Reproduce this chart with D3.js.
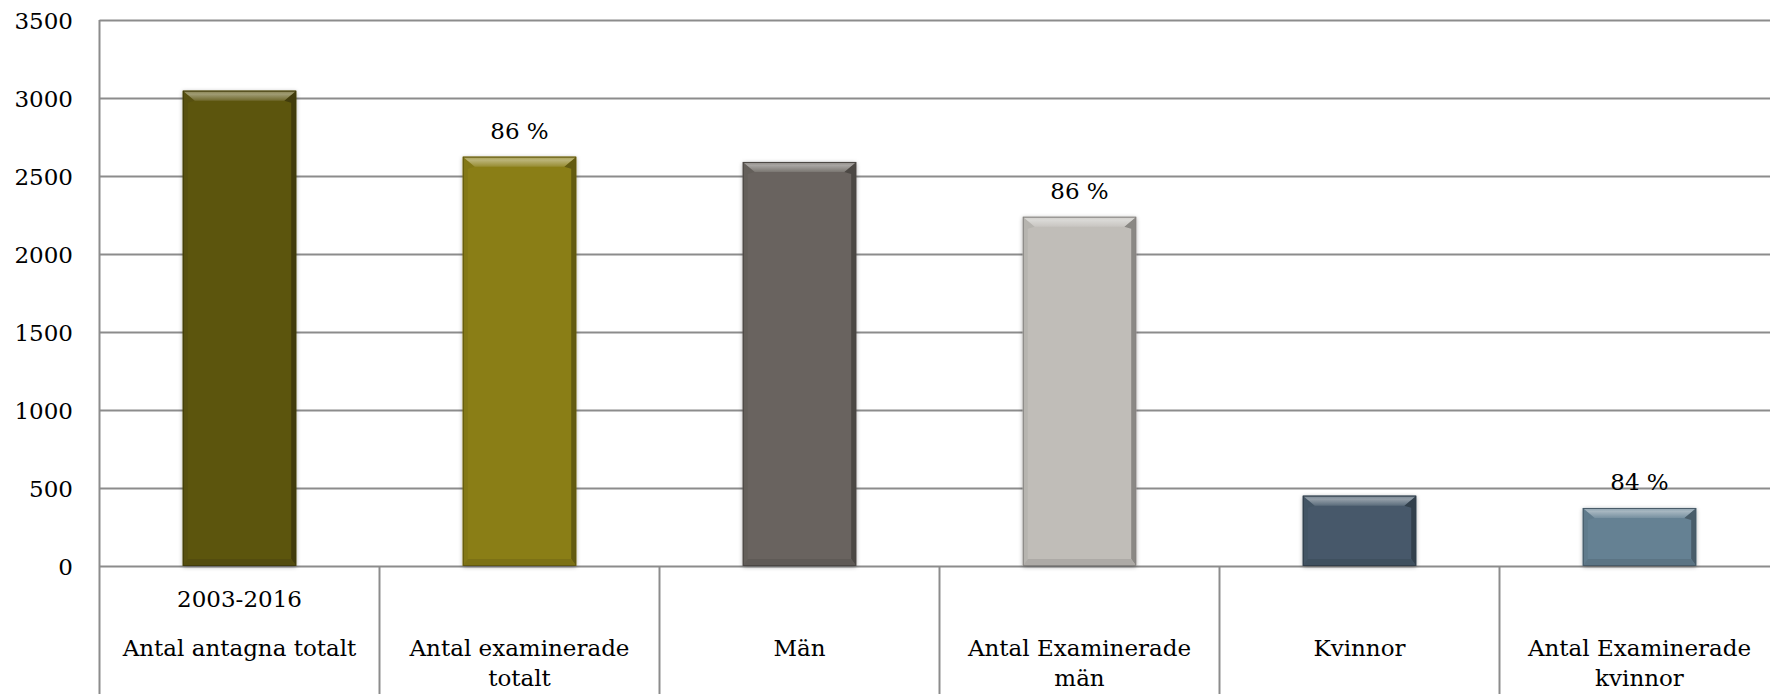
<!DOCTYPE html>
<html><head><meta charset="utf-8">
<script src="https://cdn.jsdelivr.net/npm/d3@7"></script>
<style>body{margin:0;background:#fff;overflow:hidden}svg{display:block}text{font-family:"DejaVu Serif",serif;fill:#000}</style>
</head><body>
<svg id="c" width="1770" height="694"></svg>
<script>
const categories = [
  ["2003-2016", "Antal antagna totalt"],
  ["Antal examinerade", "totalt"],
  ["Män"],
  ["Antal Examinerade", "män"],
  ["Kvinnor"],
  ["Antal Examinerade", "kvinnor"]
];
const values = [3047, 2624, 2590, 2239, 451, 372];
const percentLabels = ["", "86 %", "", "86 %", "", "84 %"];
const colors = ["#5c5410", "#8a7e17", "#69645f", "#c0bdb8", "#46596a", "#658193"];
const yTicks = [0, 500, 1000, 1500, 2000, 2500, 3000, 3500];

(function(){
const svg = d3.select("#c");
const left = 99.5, plotTop = 20, zeroY = 566, step = 280;
const fs = 23;
const x = d3.scaleBand().domain(d3.range(categories.length)).range([left, left + step * categories.length]).paddingInner(0).paddingOuter(0);
const y = d3.scaleLinear().domain([0, 3500]).range([zeroY, plotTop]);
const grid = "#8c8c8c";

svg.append("g").selectAll("line").data(yTicks).join("line")
  .attr("x1", left).attr("x2", 1770).attr("y1", d => Math.round(y(d)) + 0.5).attr("y2", d => Math.round(y(d)) + 0.5)
  .attr("stroke", grid).attr("stroke-width", 2);
svg.append("line").attr("x1", left).attr("x2", left).attr("y1", plotTop).attr("y2", 694).attr("stroke", grid).attr("stroke-width", 2);
svg.append("g").selectAll("line").data(d3.range(1, categories.length)).join("line")
  .attr("x1", d => x(d)).attr("x2", d => x(d)).attr("y1", zeroY).attr("y2", 694)
  .attr("stroke", grid).attr("stroke-width", 2);

const yAxis = d3.axisLeft(y).tickValues(yTicks).tickFormat(d3.format("d")).tickSize(0).tickPadding(0);
const ga = svg.append("g").attr("transform", `translate(73,0)`).call(yAxis);
ga.attr("font-size", null).attr("font-family", null);
ga.select(".domain").remove();
ga.selectAll("text").style("font-size", fs + "px").style("font-family", "DejaVu Serif").attr("fill", "#000").attr("dy", "0.36em");

const defs = svg.append("defs");
const f = defs.append("filter").attr("id", "sh").attr("x", "-10%").attr("y", "-10%").attr("width", "120%").attr("height", "120%");
f.append("feDropShadow").attr("dx", 0).attr("dy", 1).attr("stdDeviation", 2).attr("flood-color", "#000").attr("flood-opacity", 0.35);

const bw = step * 0.405;
const bars = svg.append("g").selectAll("g").data(values).join("g");
bars.each(function(v, i) {
  const g = d3.select(this);
  const x0 = x(i) + (step - bw) / 2, x1 = x0 + bw;
  const y0 = y(v), y1 = zeroY;
  const c = d3.color(colors[i]);
  const bt = 10, bb = 7, sl = 5, sr = 5, cx = 12;
  const ix0 = x0 + sl, ix1 = x1 - sr, iy0 = y0 + bt, iy1 = y1 - bb;
  const gid = "tg" + i;
  const lg = defs.append("linearGradient").attr("id", gid).attr("x1", 0).attr("y1", 0).attr("x2", 0).attr("y2", 1);
  lg.append("stop").attr("offset", 0).attr("stop-color", d3.interpolateRgb(c, "#fff")(0.25));
  lg.append("stop").attr("offset", 0.35).attr("stop-color", d3.interpolateRgb(c, "#fff")(0.42));
  lg.append("stop").attr("offset", 1).attr("stop-color", d3.interpolateRgb(c, "#fff")(0.12));
  g.append("rect").attr("x", x0).attr("y", y0).attr("width", bw).attr("height", y1 - y0)
    .attr("fill", c.formatHex()).attr("filter", "url(#sh)");
  // left band
  g.append("path").attr("d", `M${x0},${y0}L${ix0 + cx - sl},${iy0}L${ix0},${iy0 + 2}L${ix0},${iy1}L${x0},${y1}Z`)
    .attr("fill", d3.interpolateRgb(c, "#000")(0.05));
  // right band
  g.append("path").attr("d", `M${x1},${y0}L${ix1 - cx + sr},${iy0}L${ix1},${iy0 + 2}L${ix1},${iy1}L${x1},${y1}Z`)
    .attr("fill", d3.interpolateRgb(c, "#000")(0.28));
  // bottom band
  g.append("path").attr("d", `M${x0},${y1}L${ix0},${iy1}L${ix1},${iy1}L${x1},${y1}Z`)
    .attr("fill", d3.interpolateRgb(c, "#000")(0.1));
  // top band
  g.append("path").attr("d", `M${x0},${y0}L${x1},${y0}L${ix1 - cx + sr},${iy0}L${ix0 + cx - sl},${iy0}Z`)
    .attr("fill", `url(#${gid})`);
  g.append("rect").attr("x", x0 + 0.5).attr("y", y0 + 0.5).attr("width", bw - 1).attr("height", y1 - y0 - 1)
    .attr("fill", "none").attr("stroke", d3.interpolateRgb(c, "#000")(0.3)).attr("stroke-width", 1);
});

svg.append("g").selectAll("text").data(percentLabels).join("text")
  .attr("x", (d, i) => x(i) + step / 2).attr("y", (d, i) => y(values[i]) - 18)
  .attr("text-anchor", "middle").style("font-size", fs + "px").text(d => d);

const cl = svg.append("g").selectAll("text").data(categories).join("text")
  .attr("text-anchor", "middle").style("font-size", fs + "px");
cl.each(function(lines, i) {
  const t = d3.select(this);
  const cx = x(i) + step / 2;
  let ys;
  if (lines.length === 1) ys = [656];
  else if (i === 0) ys = [607, 656];
  else ys = [656, 686];
  lines.forEach((ln, k) => t.append("tspan").attr("x", cx).attr("y", ys[k]).text(ln));
});
})();
</script>
</body></html>
